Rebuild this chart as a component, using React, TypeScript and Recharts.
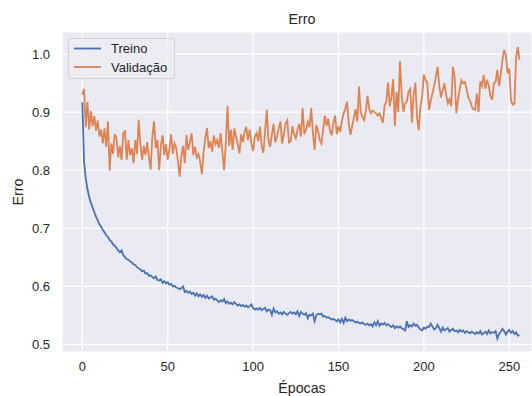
import { CartesianGrid, Label, Line, LineChart, XAxis, YAxis } from "recharts";

// erro de treino por época (0..256)
const treino = [
  0.917, 0.815, 0.786, 0.768, 0.754, 0.744, 0.736, 0.728, 0.72, 0.714,
  0.707, 0.703, 0.697, 0.693, 0.688, 0.685, 0.68, 0.677, 0.672, 0.67,
  0.666, 0.662, 0.659, 0.662, 0.654, 0.65, 0.647, 0.646, 0.643, 0.641,
  0.638, 0.637, 0.633, 0.631, 0.629, 0.626, 0.627, 0.622, 0.623, 0.618,
  0.619, 0.616, 0.614, 0.617, 0.611, 0.61, 0.612, 0.606, 0.609, 0.605,
  0.607, 0.603, 0.604, 0.6, 0.601, 0.598, 0.597, 0.595, 0.597, 0.6,
  0.59, 0.592, 0.589, 0.591, 0.587, 0.589, 0.584, 0.588, 0.583, 0.586,
  0.582, 0.585, 0.58, 0.584, 0.579, 0.581, 0.583, 0.577, 0.579, 0.576,
  0.573, 0.576, 0.574, 0.578, 0.571, 0.574, 0.57, 0.572, 0.569, 0.573,
  0.57, 0.567, 0.569, 0.566, 0.568, 0.565, 0.567, 0.564, 0.566, 0.569,
  0.563, 0.56, 0.562, 0.56, 0.563, 0.559, 0.561, 0.563, 0.557, 0.56,
  0.559, 0.551, 0.562, 0.555, 0.557, 0.553, 0.555, 0.552, 0.556, 0.553,
  0.551, 0.554, 0.556, 0.553, 0.555, 0.552, 0.557, 0.549, 0.556, 0.553,
  0.551, 0.554, 0.545, 0.551, 0.55, 0.553, 0.54, 0.55, 0.553, 0.552,
  0.553, 0.548, 0.549, 0.546, 0.547, 0.545, 0.543, 0.544, 0.542, 0.54,
  0.543, 0.538, 0.544, 0.537, 0.546, 0.54, 0.543, 0.541, 0.542, 0.54,
  0.538, 0.539, 0.537, 0.536, 0.538, 0.535, 0.534, 0.536, 0.533, 0.535,
  0.531, 0.538, 0.533, 0.54, 0.532, 0.536, 0.534, 0.537, 0.533, 0.535,
  0.532, 0.53, 0.533, 0.528, 0.531, 0.529, 0.531, 0.528, 0.526, 0.524,
  0.54, 0.53, 0.533, 0.531, 0.536, 0.532, 0.534, 0.529, 0.526, 0.524,
  0.529, 0.527, 0.531, 0.53, 0.536, 0.531, 0.526, 0.528, 0.534, 0.528,
  0.522, 0.529, 0.524, 0.526, 0.528, 0.522, 0.525, 0.527, 0.523, 0.524,
  0.521, 0.525, 0.522, 0.524, 0.52, 0.523, 0.521, 0.519, 0.522, 0.52,
  0.518, 0.521, 0.519, 0.523, 0.517, 0.52, 0.522, 0.518, 0.524, 0.519,
  0.521, 0.52, 0.523, 0.51, 0.518, 0.522, 0.527, 0.523, 0.517, 0.522,
  0.525, 0.52, 0.523, 0.518, 0.521, 0.515, 0.516,
];

// erro de validação por época (0..256)
const validacao = [
  0.93, 0.94, 0.874, 0.918, 0.87, 0.902, 0.876, 0.893, 0.868, 0.886,
  0.858, 0.87, 0.846, 0.872, 0.84, 0.884, 0.799, 0.846, 0.828, 0.862,
  0.855, 0.822, 0.842, 0.818, 0.864, 0.867, 0.818, 0.852, 0.826, 0.838,
  0.812, 0.852, 0.828, 0.887, 0.845, 0.818, 0.842, 0.826, 0.848, 0.823,
  0.801, 0.858, 0.884, 0.838, 0.852, 0.8, 0.842, 0.86, 0.826, 0.845,
  0.818, 0.836, 0.862, 0.828, 0.846, 0.838, 0.815, 0.789, 0.825, 0.842,
  0.812, 0.861, 0.835, 0.848, 0.864, 0.826, 0.84, 0.822, 0.828, 0.815,
  0.793, 0.83, 0.856, 0.873, 0.838, 0.85, 0.832, 0.86, 0.845, 0.852,
  0.838, 0.864, 0.832, 0.8, 0.845, 0.911, 0.842, 0.87, 0.835, 0.872,
  0.858, 0.845, 0.829, 0.862, 0.848, 0.866, 0.875, 0.852, 0.87, 0.846,
  0.833, 0.858, 0.864, 0.85, 0.875, 0.842, 0.83, 0.866, 0.904, 0.852,
  0.84, 0.862, 0.88, 0.848, 0.858, 0.872, 0.884, 0.846, 0.862, 0.88,
  0.886, 0.848, 0.85, 0.876, 0.862, 0.855, 0.87, 0.88, 0.858, 0.907,
  0.862, 0.87, 0.883, 0.874, 0.907, 0.865, 0.835, 0.878, 0.868, 0.852,
  0.846, 0.87, 0.894, 0.876, 0.889, 0.868, 0.86, 0.882, 0.894, 0.862,
  0.876, 0.866, 0.885, 0.898, 0.906, 0.918, 0.88, 0.861, 0.876, 0.89,
  0.905, 0.884, 0.944, 0.9, 0.892, 0.886, 0.902, 0.928, 0.905, 0.898,
  0.903, 0.9, 0.898, 0.894, 0.898, 0.89, 0.882, 0.912, 0.918, 0.951,
  0.91, 0.925, 0.957, 0.876, 0.935, 0.9, 0.988, 0.93, 0.9, 0.915,
  0.918, 0.935, 0.94, 0.882, 0.93, 0.951, 0.89, 0.869, 0.91, 0.928,
  0.965, 0.955, 0.95, 0.904, 0.92, 0.932, 0.945, 0.96, 0.978, 0.946,
  0.925, 0.938, 0.95, 0.93, 0.915, 0.922, 0.91, 0.978, 0.96, 0.898,
  0.921, 0.94, 0.955, 0.95, 0.952, 0.94, 0.925, 0.92, 0.91, 0.905,
  0.904, 0.932, 0.9, 0.953, 0.945, 0.964, 0.94, 0.956, 0.945, 0.928,
  0.921, 0.95, 0.952, 0.973, 0.945, 0.965, 0.99, 1.007, 0.998, 0.967,
  0.975, 0.92, 0.913, 0.915, 0.995, 1.012, 0.99,
];

const xTicks = [0, 50, 100, 150, 200, 250];
const yTicks = [0.5, 0.6, 0.7, 0.8, 0.9, 1.0];
const legenda = ["Treino", "Validação"];

const FONT = '"Liberation Sans", Arial, sans-serif';
const TEXT = "#262626";
const AZUL = "#4C72B0";
const LARANJA = "#DD8452";

const data = treino.map((t, i) => ({ epoca: i, treino: t, validacao: validacao[i] }));

const LegendBox = () => (
  <div
    style={{
      position: "absolute",
      left: 68,
      top: 38,
      width: 107,
      height: 41,
      boxSizing: "border-box",
      background: "rgba(236,236,243,0.85)",
      border: "1px solid #d3d3db",
      borderRadius: 3,
      fontSize: 13,
      color: TEXT,
    }}
  >
    <svg width={40} height={41} style={{ position: "absolute", left: 0, top: -1 }}>
      <line x1={5} x2={32} y1={10.5} y2={10.5} stroke={AZUL} strokeWidth={1.8} />
      <line x1={5} x2={32} y1={29} y2={29} stroke={LARANJA} strokeWidth={1.8} />
    </svg>
    {legenda.map((nome, i) => (
      <div key={nome} style={{ position: "absolute", left: 42, top: 2 + i * 18.5, lineHeight: "16px" }}>
        {nome}
      </div>
    ))}
  </div>
);

export default function App() {
  return (
    <div
      style={{
        position: "absolute",
        left: 0,
        top: 0,
        width: 532,
        height: 396,
        background: "#fff",
        overflow: "hidden",
        fontFamily: FONT,
      }}
    >
      <LineChart width={532} height={396} data={data} margin={{ top: 32, right: 0, bottom: 0, left: 0 }}>
        <CartesianGrid stroke="#fff" strokeWidth={1.2} fill="#EAEAF2" fillOpacity={1} />
        <XAxis
          dataKey="epoca"
          type="number"
          domain={[-11.9, 263.3]}
          ticks={xTicks}
          allowDataOverflow
          axisLine={false}
          tickLine={false}
          tickSize={0}
          tickMargin={10}
          height={44}
          tick={{ fill: TEXT, fontSize: 13, fontFamily: FONT }}
        >
          <Label
            content={() => (
              <text x={302} y={393} textAnchor="middle" fill={TEXT} fontSize={14.2} fontFamily={FONT}>
                Épocas
              </text>
            )}
          />
        </XAxis>
        <YAxis
          type="number"
          domain={[0.487, 1.038]}
          ticks={yTicks}
          allowDataOverflow
          axisLine={false}
          tickLine={false}
          tickSize={0}
          tickMargin={12}
          width={62}
          tickFormatter={(v: number) => v.toFixed(1)}
          tick={{ fill: TEXT, fontSize: 13, fontFamily: FONT }}
        >
          <Label
            content={() => (
              <text
                x={23}
                y={192}
                textAnchor="middle"
                fill={TEXT}
                fontSize={14.2}
                fontFamily={FONT}
                transform="rotate(-90 23 192)"
              >
                Erro
              </text>
            )}
          />
        </YAxis>
        <Line
          type="linear"
          dataKey="treino"
          name="Treino"
          stroke={AZUL}
          strokeWidth={1.8}
          dot={false}
          isAnimationActive={false}
        />
        <Line
          type="linear"
          dataKey="validacao"
          name="Validação"
          stroke={LARANJA}
          strokeWidth={1.8}
          dot={false}
          isAnimationActive={false}
        />
      </LineChart>
      <div
        style={{
          position: "absolute",
          top: 11,
          left: 252,
          width: 100,
          textAlign: "center",
          fontSize: 14.2,
          color: TEXT,
        }}
      >
        Erro
      </div>
      <LegendBox />
    </div>
  );
}
